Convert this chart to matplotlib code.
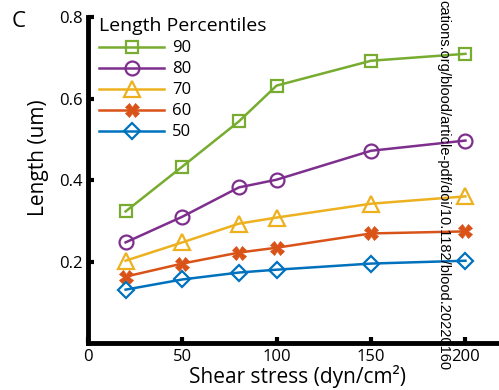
import matplotlib
matplotlib.use("Agg")
import matplotlib.pyplot as plt

plt.rcParams['font.family'] = ['Open Sans', 'DejaVu Sans']

shear = [20, 50, 80, 100, 150, 200]
p90 = [0.323, 0.433, 0.544, 0.632, 0.693, 0.710]
p80 = [0.247, 0.310, 0.382, 0.401, 0.472, 0.497]
p70 = [0.202, 0.247, 0.293, 0.308, 0.342, 0.360]
p60 = [0.163, 0.195, 0.222, 0.234, 0.269, 0.274]
p50 = [0.131, 0.156, 0.173, 0.180, 0.195, 0.202]
labels = ['90', '80', '70', '60', '50']
xticks = [0, 50, 100, 150, 200]
yticks = [0.2, 0.4, 0.6, 0.8]

colors = ['#77AC30', '#7E2F8E', '#EDB120', '#D95319', '#0072BD']
markers = ['s', 'o', '^', 'X', 'D']
sizes = [8, 10, 11, 10, 8]

fig = plt.figure(figsize=(4.99, 3.90), dpi=100)
ax = fig.add_axes([0.176, 0.1205, 0.84, 0.8355])

for ys, lab, c, m, s in zip([p90, p80, p70, p60, p50], labels, colors, markers, sizes):
    filled = (m == 'X')
    ax.plot(shear, ys, color=c, lw=1.8, marker=m, markersize=s,
            markerfacecolor=c if filled else 'none', markeredgecolor=c,
            markeredgewidth=1.6 if not filled else 0.5, label=lab)

ax.set_xlim(0, 222)
ax.set_ylim(0, 0.8)
ax.set_xticks(xticks)
ax.set_yticks(yticks)
ax.set_xticklabels([str(v) for v in xticks])
ax.set_yticklabels(['0.2', '0.4', '0.6', '0.8'])
for sp in ['top', 'right']:
    ax.spines[sp].set_visible(False)
for sp in ['left', 'bottom']:
    ax.spines[sp].set_linewidth(3.5)
ax.tick_params(direction='in', length=4, width=3, labelsize=12, pad=4)
ax.set_xlabel('Shear stress (dyn/cm²)', fontsize=15, labelpad=0)
ax.set_ylabel('Length (um)', fontsize=15)
ax.yaxis.set_label_coords(-0.093, 0.57)

leg = ax.legend(title='Length Percentiles', loc='upper left', bbox_to_anchor=(0.0, 1.035),
                frameon=False, fontsize=12, title_fontsize=14, handlelength=3.9,
                labelspacing=0.3, borderpad=0.2, handletextpad=0.45)
leg._legend_box.align = 'left'

fig.text(0.024, 0.945, 'C', fontsize=16, ha='left', va='center')
fig.text(0.889, 1.0, 'cations.org/blood/article-pdf/doi/10.1182/blood.20220160',
         rotation=-90, ha='center', va='top', fontsize=10.5, family=['Liberation Sans'])

fig.savefig('out.png', dpi=100)
